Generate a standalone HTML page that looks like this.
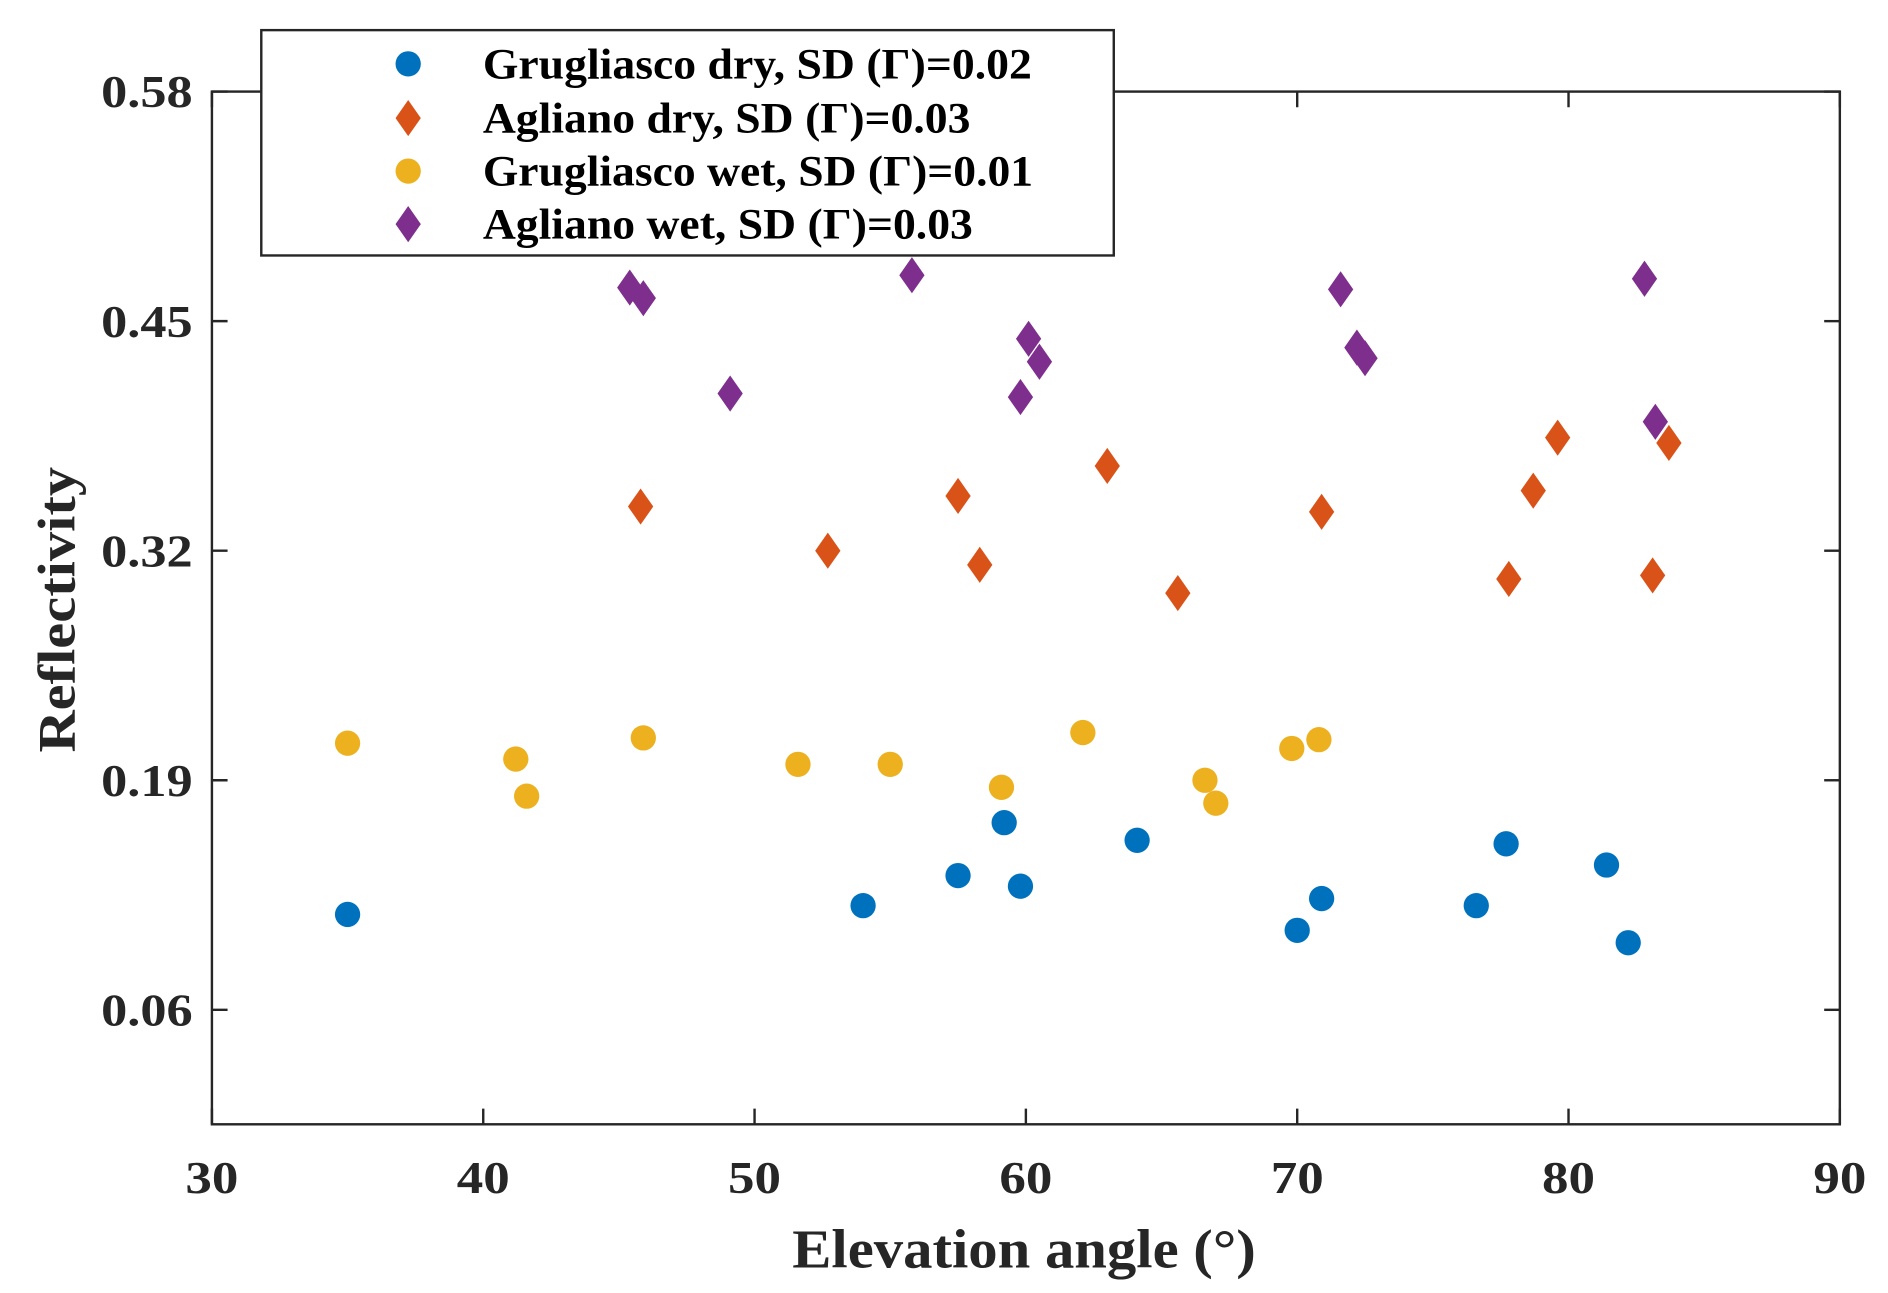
<!DOCTYPE html>
<html><head><meta charset="utf-8"><style>
html,body{margin:0;padding:0;background:#fff;}
svg{display:block;font-family:"Liberation Serif",serif;font-weight:bold;}
</style></head><body>
<svg id="chart" width="1888" height="1293" viewBox="0 0 1568 1073" preserveAspectRatio="none" xmlns="http://www.w3.org/2000/svg">
<rect x="0" y="0" width="1568" height="1073" fill="#fff"/>
<g id="axes"></g>
<g id="marks"></g>
<g id="legend"></g>
</svg>
<script>
const xTicks = [30,40,50,60,70,80,90];
const yTicks = [0.06,0.19,0.32,0.45,0.58];
const yTickLabels = ["0.06","0.19","0.32","0.45","0.58"];
const gDryX = [35,54,57.5,59.2,59.8,64.1,70,70.9,76.6,77.7,81.4,82.2];
const gDryY = [0.114,0.119,0.136,0.166,0.130,0.156,0.105,0.123,0.119,0.154,0.142,0.098];
const aDryX = [45.8,52.7,57.5,58.3,63,65.6,70.9,77.8,78.7,79.6,83.1,83.7];
const aDryY = [0.345,0.320,0.351,0.312,0.368,0.296,0.342,0.304,0.354,0.384,0.306,0.381];
const gWetX = [35,41.2,41.6,45.9,51.6,55,59.1,62.1,66.6,67,69.8,70.8];
const gWetY = [0.211,0.202,0.181,0.214,0.199,0.199,0.186,0.217,0.190,0.177,0.208,0.213];
const aWetX = [45.4,45.9,49.1,55.8,59.8,60.1,60.5,71.6,72.2,72.5,82.8,83.2];
const aWetY = [0.469,0.463,0.409,0.476,0.407,0.440,0.427,0.468,0.435,0.429,0.474,0.393];
const legendLabels = ["Grugliasco dry, SD (Γ)=0.02","Agliano dry, SD (Γ)=0.03","Grugliasco wet, SD (Γ)=0.01","Agliano wet, SD (Γ)=0.03"];
const legendWidths = [456,405,457,407];

const NS="http://www.w3.org/2000/svg";
const L=176,R=1528,T=76,B=933;
const xMin=30,xMax=90,yMax=0.58,yMin=0.58-(B-T)*0.13/190.5;
function sx(v){return L+(v-xMin)/(xMax-xMin)*(R-L);}
function sy(v){return T+(yMax-v)/(yMax-yMin)*(B-T);}
function mk(tag,attrs,parent){const e=document.createElementNS(NS,tag);for(const k in attrs)e.setAttribute(k,attrs[k]);parent.appendChild(e);return e;}
const axes=document.getElementById('axes'),marks=document.getElementById('marks'),legend=document.getElementById('legend');

const frame=mk('rect',{x:L,y:T,width:R-L,height:B-T,fill:'none',stroke:'#262626','stroke-width':2},axes);


xTicks.forEach(v=>{
  const x=sx(v);
  mk('line',{x1:x,y1:B,x2:x,y2:B-13,stroke:'#262626','stroke-width':2},axes);
  mk('line',{x1:x,y1:T,x2:x,y2:T+13,stroke:'#262626','stroke-width':2},axes);
  const t=mk('text',{x:x,y:990,'text-anchor':'middle','font-size':38,fill:'#262626',textLength:44,lengthAdjust:'spacingAndGlyphs'},axes);
  t.textContent=v;
  
  
});
yTicks.forEach((v,i)=>{
  const y=sy(v);
  mk('line',{x1:L,y1:y,x2:L+13,y2:y,stroke:'#262626','stroke-width':2},axes);
  mk('line',{x1:R,y1:y,x2:R-13,y2:y,stroke:'#262626','stroke-width':2},axes);
  const t=mk('text',{x:84,y:y+13,'font-size':38,fill:'#262626',textLength:76,lengthAdjust:'spacingAndGlyphs'},axes);
  t.textContent=yTickLabels[i];
  
  
});
const xl=mk('text',{x:658,y:1052,'font-size':46,fill:'#262626',textLength:385,lengthAdjust:'spacingAndGlyphs'},axes);
xl.textContent='Elevation angle (°)';


const yl=mk('text',{x:0,y:0,'text-anchor':'middle','font-size':44,fill:'#262626',textLength:237,lengthAdjust:'spacingAndGlyphs',transform:'translate(62,506) rotate(-90)'},axes);
yl.textContent='Reflectivity';



function circle(x,y,c,p){return mk('circle',{cx:x,cy:y,r:10.5,fill:c},p);}
function diamond(x,y,c,p){return mk('polygon',{points:`${x},${y-15} ${x+10.5},${y} ${x},${y+15} ${x-10.5},${y}`,fill:c},p);}
const series=[
 {xs:gDryX,ys:gDryY,c:'#0072BD',f:circle,n:'grugliasco-dry-point'},
 {xs:aDryX,ys:aDryY,c:'#D95319',f:diamond,n:'agliano-dry-point'},
 {xs:gWetX,ys:gWetY,c:'#EDB120',f:circle,n:'grugliasco-wet-point'},
 {xs:aWetX,ys:aWetY,c:'#7E2F8E',f:diamond,n:'agliano-wet-point'}
];
series.forEach(s=>{
  s.xs.forEach((xv,i)=>{
    const e=s.f(sx(xv),sy(s.ys[i]),s.c,marks);
    
    
  });
});

const lb=mk('rect',{x:217,y:25,width:708,height:187,fill:'#fff',stroke:'#262626','stroke-width':2},legend);


const ly=[53,98,142,186];
series.forEach((s,i)=>{
  const m=s.f(339,ly[i],s.c,legend);
  
  
  const t=mk('text',{x:401,y:ly[i]+12,'font-size':36,fill:'#000',textLength:legendWidths[i],lengthAdjust:'spacingAndGlyphs'},legend);
  t.textContent=legendLabels[i];
  
  
});
</script>
</body></html>
